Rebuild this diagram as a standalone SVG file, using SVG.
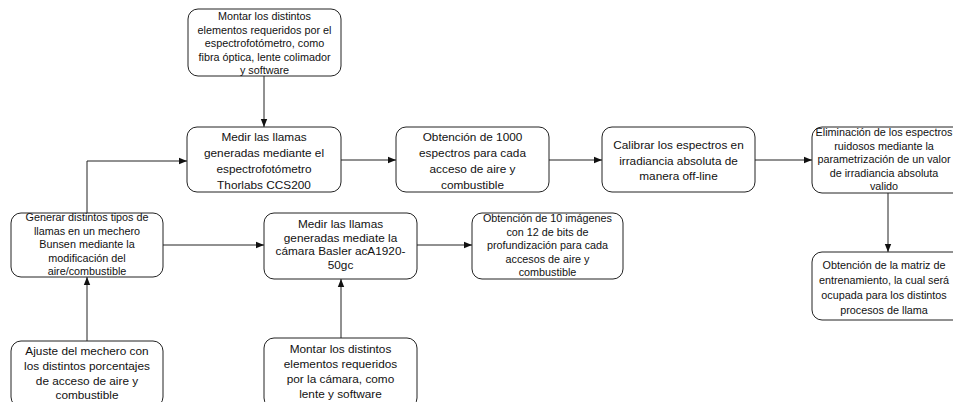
<svg xmlns="http://www.w3.org/2000/svg" width="953" height="402" viewBox="0 0 953 402">
<defs>
<style>
.box{fill:#fff;stroke:#222;stroke-width:1}
.t{font-family:"Liberation Sans",Arial,sans-serif;fill:#111;text-anchor:middle}
.s{font-size:10.8px}
.l{font-size:11.8px}
.c{fill:none;stroke:#222;stroke-width:1}
</style>
<marker id="ah" viewBox="0 0 8 8" refX="8" refY="4" markerWidth="8" markerHeight="8" markerUnits="userSpaceOnUse" orient="auto">
<path d="M0,0.8 L8,4 L0,7.2 Z" fill="#111"/>
</marker>
</defs>
<rect width="953" height="402" fill="#fff"/>
<g id="connectors">
<path class="c" d="M264,76 V127" marker-end="url(#ah)"/>
<path class="c" d="M87,213 V161 H187" marker-end="url(#ah)"/>
<path class="c" d="M341,160 H396" marker-end="url(#ah)"/>
<path class="c" d="M549,160 H602" marker-end="url(#ah)"/>
<path class="c" d="M755,160 H812" marker-end="url(#ah)"/>
<path class="c" d="M888,193 V252" marker-end="url(#ah)"/>
<path class="c" d="M163,245 H264" marker-end="url(#ah)"/>
<path class="c" d="M417,245 H472" marker-end="url(#ah)"/>
<path class="c" d="M87,341 V277" marker-end="url(#ah)"/>
<path class="c" d="M341,338 V279" marker-end="url(#ah)"/>
</g>
<g id="n_montar_espectro">
<rect class="box" x="188" y="9" width="153" height="67" rx="10"/>
<text class="t s"><tspan x="264.5" y="20">Montar los distintos</tspan><tspan x="264.5" y="33.5">elementos requeridos por el</tspan><tspan x="264.5" y="47">espectrofotómetro, como</tspan><tspan x="264.5" y="60.5">fibra óptica, lente colimador</tspan><tspan x="264.5" y="74">y software</tspan></text>
</g>
<g id="n_medir_espectro">
<rect class="box" x="187" y="127" width="154" height="65" rx="10"/>
<text class="t l"><tspan x="264" y="141">Medir las llamas</tspan><tspan x="264" y="157">generadas mediante el</tspan><tspan x="264" y="173">espectrofotómetro</tspan><tspan x="264" y="189">Thorlabs CCS200</tspan></text>
</g>
<g id="n_obtencion_1000">
<rect class="box" x="396" y="127" width="153" height="65" rx="10"/>
<text class="t l"><tspan x="472.5" y="141">Obtención de 1000</tspan><tspan x="472.5" y="157">espectros para cada</tspan><tspan x="472.5" y="173">acceso de aire y</tspan><tspan x="472.5" y="189">combustible</tspan></text>
</g>
<g id="n_calibrar">
<rect class="box" x="602" y="127" width="153" height="65" rx="10"/>
<text class="t l"><tspan x="678.5" y="149">Calibrar los espectros en</tspan><tspan x="678.5" y="164.5">irradiancia absoluta de</tspan><tspan x="678.5" y="180">manera off-line</tspan></text>
</g>
<g id="n_eliminacion">
<rect class="box" x="812" y="127" width="153" height="66" rx="10"/>
<text class="t s"><tspan x="884" y="136">Eliminación de los espectros</tspan><tspan x="884" y="149.5">ruidosos mediante la</tspan><tspan x="884" y="163">parametrización de un valor</tspan><tspan x="884" y="176.5">de irradiancia absoluta</tspan><tspan x="884" y="190">valido</tspan></text>
</g>
<g id="n_generar">
<rect class="box" x="11" y="213" width="152" height="64" rx="10"/>
<text class="t s"><tspan x="87" y="221">Generar distintos tipos de</tspan><tspan x="87" y="234.5">llamas en un mechero</tspan><tspan x="87" y="248">Bunsen mediante la</tspan><tspan x="87" y="261.5">modificación del</tspan><tspan x="87" y="275">aire/combustible</tspan></text>
</g>
<g id="n_medir_camara">
<rect class="box" x="264" y="213" width="153" height="66" rx="10"/>
<text class="t l"><tspan x="340.5" y="228">Medir las llamas</tspan><tspan x="340.5" y="241.5">generadas mediate la</tspan><tspan x="340.5" y="255">cámara Basler acA1920-</tspan><tspan x="340.5" y="268.5">50gc</tspan></text>
</g>
<g id="n_obtencion_10">
<rect class="box" x="472" y="213" width="151" height="66" rx="10"/>
<text class="t s"><tspan x="547.5" y="222">Obtención de 10 imágenes</tspan><tspan x="547.5" y="235.5">con 12 de bits de</tspan><tspan x="547.5" y="249">profundización para cada</tspan><tspan x="547.5" y="262.5">accesos de aire y</tspan><tspan x="547.5" y="276">combustible</tspan></text>
</g>
<g id="n_matriz">
<rect class="box" x="812" y="252" width="153" height="68" rx="10"/>
<text class="t s"><tspan x="884" y="269">Obtención de la matriz de</tspan><tspan x="884" y="284">entrenamiento, la cual será</tspan><tspan x="884" y="299">ocupada para los distintos</tspan><tspan x="884" y="314">procesos de llama</tspan></text>
</g>
<g id="n_ajuste">
<rect class="box" x="11" y="341" width="152" height="66" rx="10"/>
<text class="t l"><tspan x="87" y="354.5">Ajuste del mechero  con</tspan><tspan x="87" y="369.5">los distintos porcentajes</tspan><tspan x="87" y="384.5">de acceso de aire y</tspan><tspan x="87" y="399">combustible</tspan></text>
</g>
<g id="n_montar_camara">
<rect class="box" x="264" y="338" width="153" height="70" rx="10"/>
<text class="t l"><tspan x="340.5" y="353">Montar los distintos</tspan><tspan x="340.5" y="368">elementos requeridos</tspan><tspan x="340.5" y="383">por la cámara, como</tspan><tspan x="340.5" y="397.5">lente y software</tspan></text>
</g>
</svg>
